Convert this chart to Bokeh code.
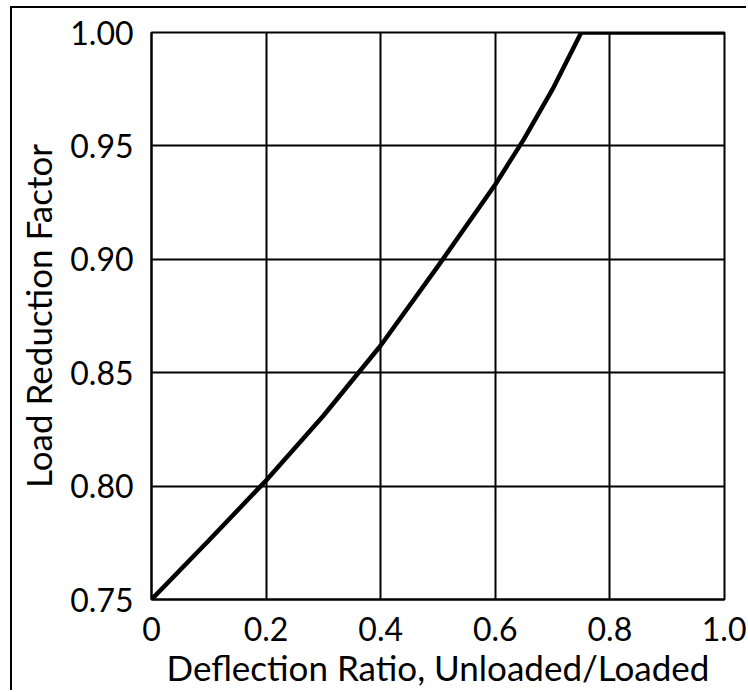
from bokeh.plotting import figure
from bokeh.models import FixedTicker, Range1d
from bokeh.embed import file_html
from bokeh.resources import INLINE

# Data
deflection_ratio = [0.0, 0.1, 0.2, 0.3, 0.4, 0.5, 0.6, 0.65, 0.7, 0.75, 1.0]
load_reduction = [0.750, 0.776, 0.8025, 0.831, 0.862, 0.897, 0.933, 0.953, 0.975, 1.000, 1.000]

x_ticks = [0, 0.2, 0.4, 0.6, 0.8, 1.0]
x_tick_labels = ["0", "0.2", "0.4", "0.6", "0.8", "1.0"]
y_ticks = [0.75, 0.80, 0.85, 0.90, 0.95, 1.00]
y_tick_labels = ["0.75", "0.80", "0.85", "0.90", "0.95", "1.00"]

FONT = "Lato"

p = figure(width=736, height=684, output_backend="svg", toolbar_location=None,
           x_range=Range1d(0, 1.0), y_range=Range1d(0.75, 1.0),
           min_border_left=139, min_border_top=24, min_border_right=24,
           min_border_bottom=93)
p.styles = {"margin-left": "10px", "margin-top": "6px",
            "border-left": "2px solid black", "border-top": "2px solid black"}

p.line(deflection_ratio, load_reduction, line_color="black", line_width=4.5)

p.xaxis.ticker = FixedTicker(ticks=x_ticks)
p.yaxis.ticker = FixedTicker(ticks=y_ticks)
p.xaxis.major_label_overrides = {t: l for t, l in zip(x_ticks, x_tick_labels)}
p.yaxis.major_label_overrides = {t: l for t, l in zip(y_ticks, y_tick_labels)}

p.xaxis.axis_label = "Deflection Ratio, Unloaded/Loaded"
p.yaxis.axis_label = "Load Reduction Factor"

for ax in (p.xaxis, p.yaxis):
    ax.axis_label_text_font = FONT
    ax.axis_label_text_font_size = "35px"
    ax.axis_label_text_font_style = "normal"
    ax.axis_label_text_color = "black"
    ax.major_label_text_font = FONT
    ax.major_label_text_font_size = "32px"
    ax.major_label_text_color = "black"
    ax.major_tick_line_color = None
    ax.minor_tick_line_color = None
    ax.axis_line_color = "black"
    ax.axis_line_width = 2

p.xaxis.major_label_standoff = 11
p.xaxis.axis_label_standoff = 2
p.yaxis.major_label_standoff = 12
p.yaxis.axis_label_standoff = 8

p.xgrid.grid_line_color = "black"
p.ygrid.grid_line_color = "black"
p.xgrid.grid_line_width = 2
p.ygrid.grid_line_width = 2
p.outline_line_color = "black"
p.outline_line_width = 2
p.background_fill_color = "white"
p.border_fill_color = "white"

open("out.html", "w").write(file_html(p, INLINE))
